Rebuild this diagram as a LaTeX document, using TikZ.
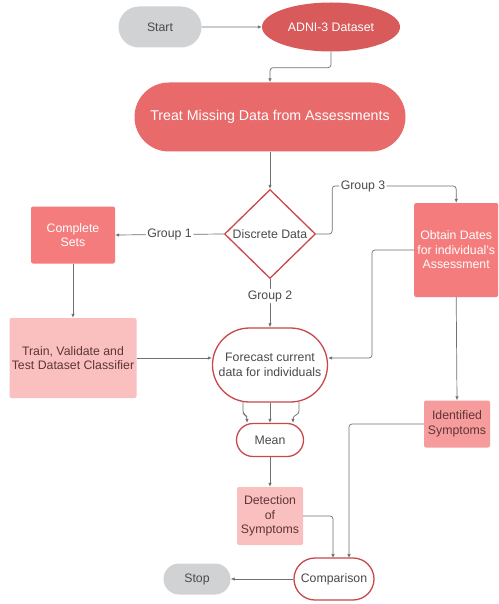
\documentclass[tikz,border=0pt]{standalone}
\usepackage{fontspec}
\setmainfont{Liberation Sans}
\usetikzlibrary{shapes.geometric,shapes.misc,arrows.meta}
\definecolor{grayfill}{HTML}{D0D2D4}
\definecolor{adni}{HTML}{D95A5A}
\definecolor{treat}{HTML}{E96A6B}
\definecolor{salmon}{HTML}{F57C7C}
\definecolor{midpink}{HTML}{F69C9C}
\definecolor{lightpink}{HTML}{FAC0C0}
\definecolor{border}{HTML}{C8484C}
\definecolor{lineg}{HTML}{707070}
\definecolor{txt}{HTML}{4A4A4A}
\definecolor{darktxt}{HTML}{5E3536}
\tikzset{
  x=1pt, y=-1pt,
  every node/.style={font=\fontsize{12.3}{14.5}\selectfont, align=center, inner sep=0pt},
  graypill/.style={rounded rectangle, fill=grayfill, text=txt},
  whitepill/.style={rounded rectangle, draw=border, line width=1.3pt, fill=white, text=txt},
  boxA/.style={rectangle, rounded corners=2pt, fill=salmon, text=white},
  boxB/.style={rectangle, rounded corners=2pt, fill=midpink, text=darktxt},
  boxC/.style={rectangle, rounded corners=2pt, fill=lightpink, text=darktxt},
  conn/.style={draw=lineg, line width=0.7pt, -{Latex[length=4pt,width=3.5pt]}, rounded corners=3pt},
  lbl/.style={fill=white, text=txt, inner sep=1.5pt}
}
\begin{document}
\begin{tikzpicture}
\useasboundingbox (0,0) rectangle (498,604);
\fill[white] (0,0) rectangle (498,604);
% nodes
\node[graypill, minimum width=83pt, minimum height=41pt] (start) at (160,27) {Start};
\node[ellipse, fill=adni, text=white, minimum width=138pt, minimum height=49pt] (adni) at (331,27) {ADNI-3 Dataset};
\node[rounded rectangle, fill=treat, text=white, minimum width=271pt, minimum height=69pt, font=\fontsize{14.2}{17}\selectfont] (treat) at (270,117) {Treat Missing Data from Assessments};
\node[diamond, draw=border, line width=1.3pt, fill=white, text=txt, minimum width=91pt, minimum height=89pt, aspect=1] (disc) at (270,234) {};
\node[text=txt] at (270,234) {Discrete Data};
\node[boxA, minimum width=84pt, minimum height=57pt] (comp) at (73,235) {Complete\\Sets};
\node[boxA, minimum width=84pt, minimum height=94pt, anchor=west] (obtain) at (414,250) {Obtain Dates\\for individual's\\Assessment};
\node[boxC, minimum width=127pt, minimum height=80pt] (train) at (73,358) {Train, Validate and\\Test Dataset Classifier};
\node[whitepill, minimum width=115pt, minimum height=74pt] (fore) at (270,365) {Forecast current\\data for individuals};
\node[boxB, minimum width=66pt, minimum height=47pt] (ident) at (457,424) {Identified\\Symptoms};
\node[whitepill, minimum width=67pt, minimum height=33pt] (mean) at (270,440) {Mean};
\node[boxC, minimum width=66pt, minimum height=58pt] (detect) at (270,516) {Detection\\of\\Symptoms};
\node[whitepill, minimum width=80pt, minimum height=42pt] (compar) at (334,579) {Comparison};
\node[graypill, minimum width=67pt, minimum height=31pt] (stop) at (197,579) {Stop};
% connectors
\draw[conn] (start) -- (adni);
\draw[conn] (adni.south) -- ++(0,16) -| (treat.north);
\draw[conn] (treat.south) -- (disc.north);
\draw[conn] (disc.west) -- node[lbl]{Group 1} (comp.east);
\draw[conn] (disc.east) -- ++(16,0) |- (363,186) node[lbl]{Group 3} -| (obtain.north);
\draw[conn] (disc.south) -- node[lbl, pos=0.35]{Group 2} (fore.north);
\draw[conn] (comp.south) -- (train.north);
\draw[conn] (train.east) -- (train.east -| fore.west);
\draw[conn] (obtain.west) -| (372,358) -- (fore.east |- 0,358);
\draw[conn] (obtain.south) -- (ident.north);
\draw[conn] (243,402) -- (243,414) -- (247,416) -- (mean.north -| 247,0);
\draw[conn] (fore.south) -- (mean.north);
\draw[conn] (299,402) -- (299,414) -- (293,416) -- (mean.north -| 293,0);
\draw[conn] (mean.south) -- (detect.north);
\draw[conn] (detect.east) -| (333,558);
\draw[conn] (ident.west) -| (349,558);
\draw[conn] (compar.west) -- (stop.east);
\end{tikzpicture}
\end{document}
